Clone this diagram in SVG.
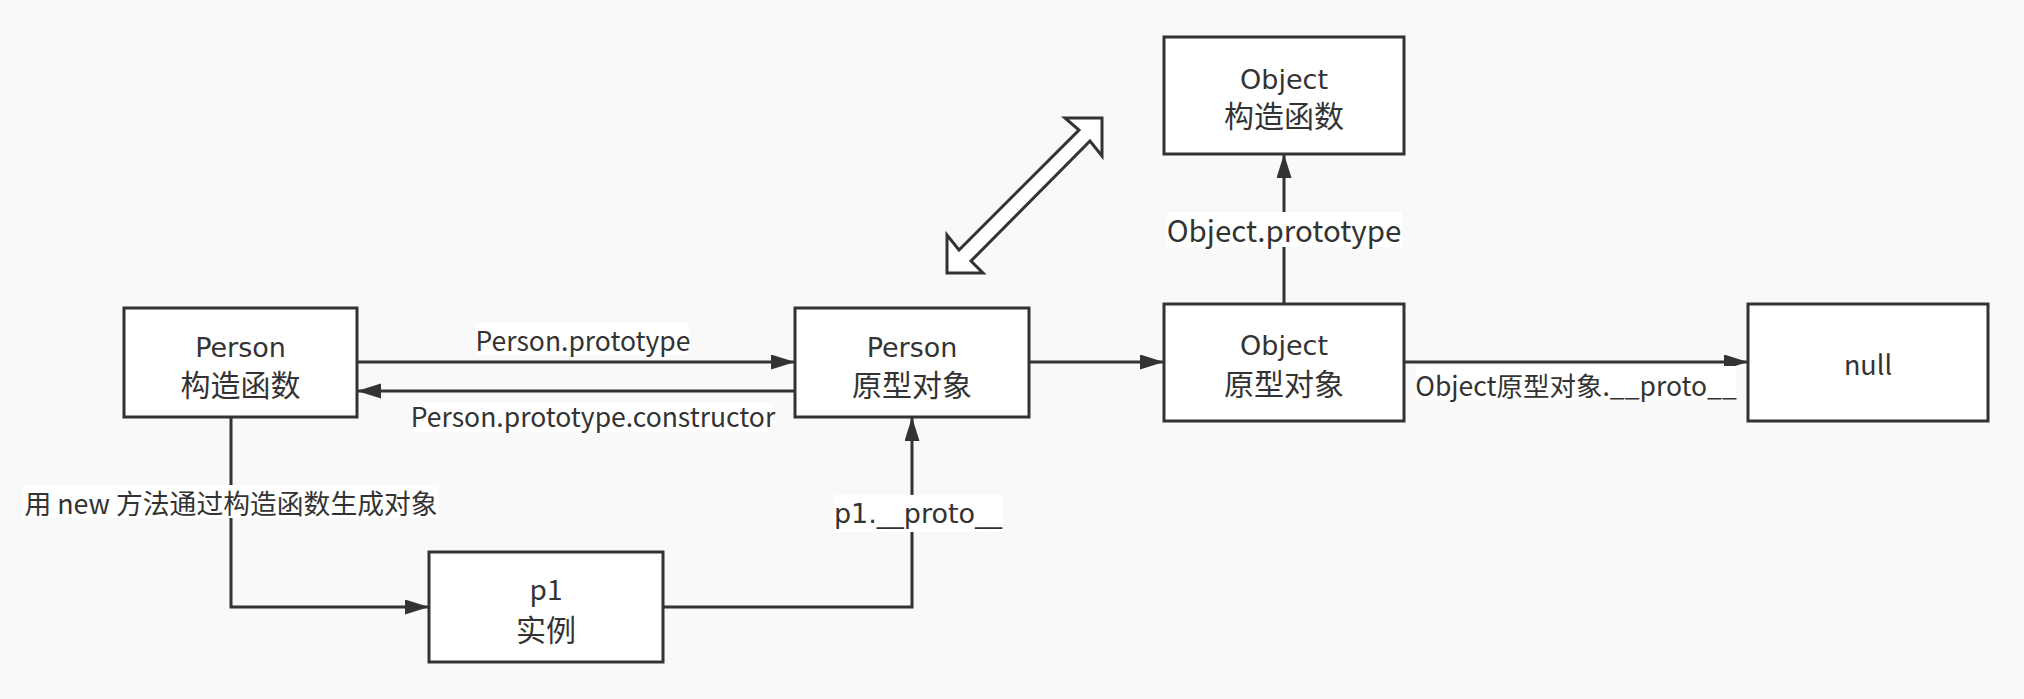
<svg xmlns="http://www.w3.org/2000/svg" width="2024" height="699" viewBox="0 0 2024 699">
<style>
.bg{fill:#f9f9f9}
.node rect{fill:#ffffff;stroke:#333333;stroke-width:3}
.comic{font-family:"DejaVu Sans",sans-serif;font-size:27px;fill:#333333}
.cjk{font-family:"Noto Sans CJK SC","Noto Sans",sans-serif;font-size:30px;fill:#333333}
.lat{font-family:"Noto Sans CJK SC","Noto Sans",sans-serif;font-size:27px;fill:#333333}
.edge{fill:none;stroke:#333333;stroke-width:3}
.lblbg{fill:#ffffff}
.lbl{font-family:"Noto Sans CJK SC","Noto Sans",sans-serif;font-size:26.5px;fill:#333333}
.dbl{fill:#ffffff;stroke:#333333;stroke-width:3;stroke-linejoin:miter}
</style>
<defs>
<marker id="arr" markerUnits="userSpaceOnUse" markerWidth="26" markerHeight="16" refX="24" refY="7.5" orient="auto">
<path d="M0,0 L24,7.5 L0,15 z" fill="#333333"/>
</marker>
</defs>
<rect class="bg" x="0" y="0" width="2024" height="699"/>

<g id="connectors">
<path class="edge" d="M357,362 L795,362" marker-end="url(#arr)"/>
<path class="edge" d="M795,391 L357,391" marker-end="url(#arr)"/>
<path class="edge" d="M1029,362 L1164,362" marker-end="url(#arr)"/>
<path class="edge" d="M1284,304 L1284,154" marker-end="url(#arr)"/>
<path class="edge" d="M1404,362 L1748,362" marker-end="url(#arr)"/>
<path class="edge" d="M231,417 L231,607 L429,607" marker-end="url(#arr)"/>
<path class="edge" d="M663,607 L912,607 L912,417" marker-end="url(#arr)"/>

<rect class="lblbg" x="477" y="323" width="212" height="32"/>
<text class="lbl" x="583" y="351" text-anchor="middle">Person.prototype</text>
<rect class="lblbg" x="414" y="403" width="358" height="29"/>
<text class="lbl" x="593" y="427" text-anchor="middle">Person.prototype.constructor</text>
<rect class="lblbg" x="1167" y="212" width="235" height="35"/>
<text class="lbl" x="1284" y="242" text-anchor="middle" style="font-size:29.5px">Object.prototype</text>
<rect class="lblbg" x="1416" y="366" width="320" height="34"/>
<text class="lbl" x="1576" y="396" text-anchor="middle">Object原型对象.__proto__</text>
<rect class="lblbg" x="23" y="485" width="416" height="33"/>
<text class="lbl" x="231" y="514" text-anchor="middle" style="font-size:26.8px">用 new 方法通过构造函数生成对象</text>
<rect class="lblbg" x="834" y="495" width="169" height="37"/>
<text class="comic" x="918" y="523" text-anchor="middle">p1.__proto__</text>
</g>

<g id="node-person-ctor" class="node">
<rect x="124" y="308" width="233" height="109"/>
<text text-anchor="middle"><tspan class="comic" x="240.5" y="357">Person</tspan><tspan class="cjk" x="240.5" y="396">构造函数</tspan></text>
</g>

<g id="node-person-proto" class="node">
<rect x="795" y="308" width="234" height="109"/>
<text text-anchor="middle"><tspan class="comic" x="912" y="357">Person</tspan><tspan class="cjk" x="912" y="396">原型对象</tspan></text>
</g>

<g id="node-object-proto" class="node">
<rect x="1164" y="304" width="240" height="117"/>
<text text-anchor="middle"><tspan class="comic" x="1284" y="355">Object</tspan><tspan class="cjk" x="1284" y="395">原型对象</tspan></text>
</g>

<g id="node-object-ctor" class="node">
<rect x="1164" y="37" width="240" height="117"/>
<text text-anchor="middle"><tspan class="comic" x="1284" y="89">Object</tspan><tspan class="cjk" x="1284" y="127">构造函数</tspan></text>
</g>

<g id="node-null" class="node">
<rect x="1748" y="304" width="240" height="117"/>
<text class="lat" x="1868" y="375" text-anchor="middle">null</text>
</g>

<g id="node-p1" class="node">
<rect x="429" y="552" width="234" height="110"/>
<text text-anchor="middle"><tspan class="lat" x="546" y="600" style="font-size:28px">p1</tspan><tspan class="cjk" x="546" y="641">实例</tspan></text>
</g>

<g id="node-double-arrow">
<polygon class="dbl" points="1102,118 1102,156 1090,141 971,261 983,273 947,273 947,235 959,250 1079,130 1065,118"/>
</g>
</svg>
